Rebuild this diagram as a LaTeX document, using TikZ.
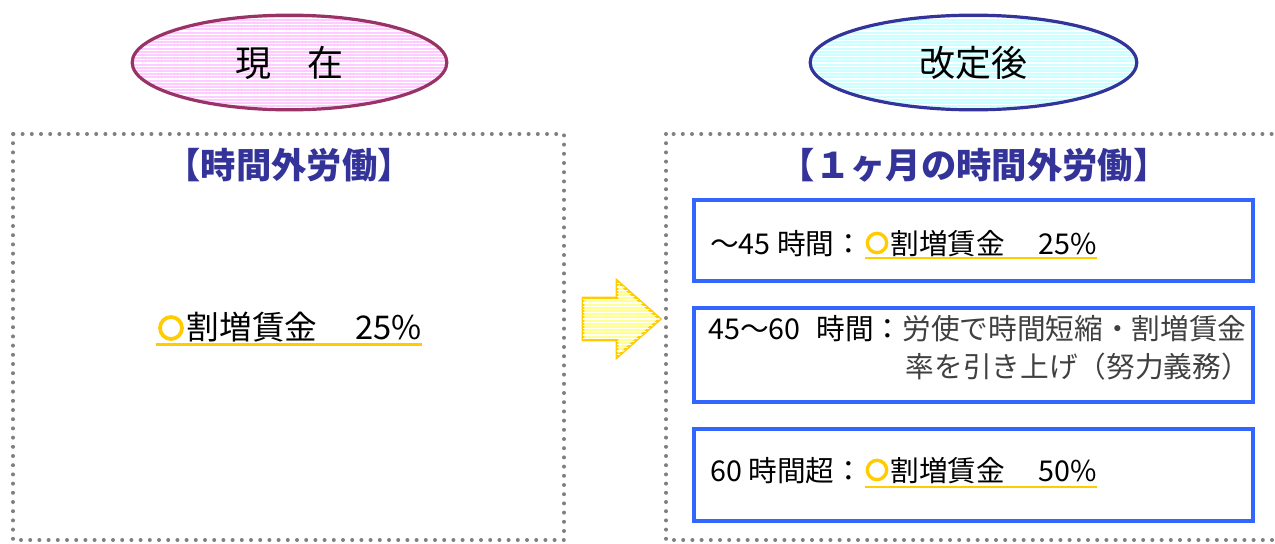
\documentclass[tikz,border=0pt]{standalone}
\usepackage{fontspec}
\setmainfont{Noto Sans CJK JP}
\usetikzlibrary{shapes.geometric,patterns.meta}
\definecolor{maroon}{HTML}{993366}
\definecolor{pinkfill}{HTML}{FFCCFF}
\definecolor{navy}{HTML}{333399}
\definecolor{cyanfill}{HTML}{CCFFFF}
\definecolor{boxblue}{HTML}{3366FF}
\definecolor{gold}{HTML}{FFCC00}
\definecolor{dotgray}{HTML}{808080}
\definecolor{yelfill}{HTML}{FFFF99}
\begin{document}
\begin{tikzpicture}[x=0.75pt,y=-0.75pt,
  oval/.style={ellipse,line width=2.4pt,minimum height=71pt,inner sep=0pt,
    pattern={Lines[angle=0,distance=2.4pt,line width=0.9pt]},pattern color=white,
    font=\fontsize{27}{32}\selectfont},
  dotbox/.style={draw=dotgray,line width=3pt,line cap=round,dash pattern=on 0pt off 6.9pt},
  heading/.style={text=navy,font=\fontsize{26.5}{32}\bfseries\selectfont,inner sep=0pt},
  bluebox/.style={draw=boxblue,line width=2.4pt},
  txt/.style={font=\fontsize{21.5}{26}\selectfont,inner sep=0pt},
  uline/.style={draw=gold,line width=1.6pt},
  ring/.style={circle,draw=gold,line width=2.5pt,minimum size=14.5pt,inner sep=0pt}
]
\useasboundingbox (0,0) rectangle (1275,543);
\fill[white] (0,0) rectangle (1275,543);

% ellipses
\node[oval,draw=maroon,minimum width=236pt,preaction={fill=pinkfill}] (now) at (289.5,62.5) {現\hspace{1em}在};
\node[oval,draw=navy,minimum width=245pt,preaction={fill=cyanfill}] (after) at (973.5,62.5) {改定後};

% dotted frames
\draw[dotbox] (13,134) rectangle (564,540);
\draw[dotbox] (666,134) rectangle (1285,540);

% headings
\node[heading] (hl) at (289,165) {【時間外労働】};
\node[heading] (hr) at (974,165) {【１ヶ月の時間外労働】};

% left content
\node[ring,minimum size=16.5pt,line width=2.8pt] (lr) at (171,328) {};
\node[txt,anchor=base west,font=\fontsize{24.5}{29}\selectfont] (lt) at ([xshift=2pt]lr.east |- 0,339) {割増賃金\hspace{1.15em}25\%};
\draw[uline] (156,344.5) -- (lt.east |- 0,344.5);

% arrow
\filldraw[draw=gold,line width=2.2pt,line join=miter,fill=yelfill,
  postaction={pattern={Lines[angle=0,distance=2.4pt,line width=0.9pt]},pattern color=white}]
  (583,298) -- (617,298) -- (617,281) -- (660,319) -- (617,357) -- (617,340) -- (583,340) -- cycle;

% right boxes
\draw[bluebox] (694,200) rectangle (1253,281);
\draw[bluebox] (694,308) rectangle (1253,402);
\draw[bluebox] (694,429) rectangle (1253,521);

\node[txt,anchor=base west] (a1) at (710,254) {～45 時間：};
\node[ring] (ar) at (877,243) {};
\node[txt,anchor=base west] (a2) at ([xshift=1.5pt]ar.east |- a1.base) {割増賃金\hspace{1.15em}25\%};
\draw[uline] (865,258) -- (a2.east |- 0,258);

\node[txt,anchor=base west] (b1) at (708,339) {45～60\hspace{0.55em}時間：\textcolor{black!75}{労使で時間短縮・割増賃金}};
\node[txt,anchor=base east,text=black!75] (b2) at (1250,377) {率を引き上げ（努力義務）};

\node[txt,anchor=base west] (c1) at (710,481) {60 時間超：};
\node[ring] (cr) at (877,470) {};
\node[txt,anchor=base west] (c2) at ([xshift=1.5pt]cr.east |- c1.base) {割増賃金\hspace{1.15em}50\%};
\draw[uline] (865,487) -- (c2.east |- 0,487);
\end{tikzpicture}
\end{document}
